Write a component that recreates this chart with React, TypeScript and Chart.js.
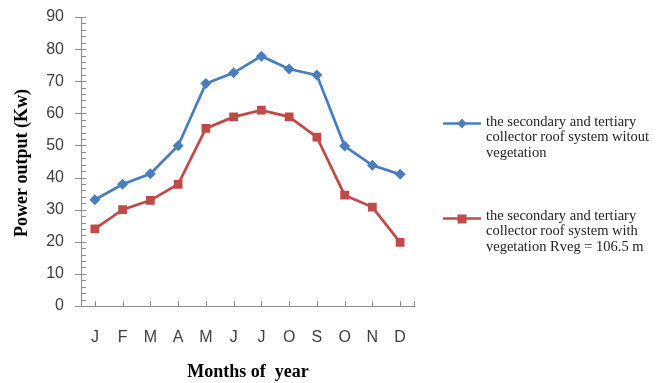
import React, { useEffect, useRef } from "react";
import { Chart, registerables } from "chart.js";

Chart.register(...registerables);

const months = ["J", "F", "M", "A", "M", "J", "J", "O", "S", "O", "N", "D"];
const withoutVegetation = [33.1, 37.9, 41.2, 49.9, 69.3, 72.6, 77.8, 73.8, 71.9, 49.8, 43.8, 41.0];
const withVegetation = [24.0, 30.0, 32.9, 37.9, 55.3, 58.9, 61.0, 58.9, 52.6, 34.5, 30.8, 19.8];
const yTicks = [0, 10, 20, 30, 40, 50, 60, 70, 80, 90];
const legendLabels = [
  ["the secondary and tertiary", "collector roof system witout", "vegetation"],
  ["the secondary and tertiary", "collector roof system with", "vegetation Rveg = 106.5 m"],
];

const BLUE = "#4a7ebb";
const RED = "#be4b48";
const AXIS = "#8c8c8c";

const decorations = {
  id: "decorations",
  afterDraw(chart: any) {
    const { ctx, chartArea, scales } = chart;
    const x = scales.x;
    const y = scales.y;
    ctx.save();
    ctx.strokeStyle = AXIS;
    ctx.lineWidth = 1;
    // y-axis major and minor tick marks
    for (let v = 0; v <= 90; v += 2) {
      const py = Math.round(y.getPixelForValue(v)) + 0.5;
      const major = v % 10 === 0;
      ctx.beginPath();
      ctx.moveTo(chartArea.left - (major ? 6 : 0), py);
      ctx.lineTo(chartArea.left + 5, py);
      ctx.stroke();
    }
    // x-axis tick marks at category centres
    const by = Math.round(chartArea.bottom);
    for (let i = 0; i < months.length; i++) {
      const px = Math.round(x.getPixelForValue(i)) + 0.5;
      ctx.beginPath();
      ctx.moveTo(px, by - 5);
      ctx.lineTo(px, by);
      ctx.stroke();
    }
    const rx = Math.round(chartArea.right) + 0.5;
    ctx.beginPath();
    ctx.moveTo(rx, by - 5);
    ctx.lineTo(rx, by);
    ctx.stroke();

    // axis titles
    ctx.fillStyle = "#000";
    ctx.font = "bold 18px 'Liberation Serif', 'Times New Roman', serif";
    ctx.textAlign = "center";
    ctx.textBaseline = "middle";
    ctx.fillText("Months of  year", 248, 372);
    ctx.save();
    ctx.translate(22, 163);
    ctx.rotate(-Math.PI / 2);
    ctx.fillText("Power output (Kw)", 0, 0);
    ctx.restore();

    // legend
    const entries = [
      { color: BLUE, style: "diamond", y: 123, ty: 122, lines: legendLabels[0] },
      { color: RED, style: "square", y: 218, ty: 216, lines: legendLabels[1] },
    ];
    ctx.font = "14.5px 'Liberation Serif', 'Times New Roman', serif";
    ctx.textAlign = "left";
    for (const e of entries) {
      ctx.strokeStyle = e.color;
      ctx.lineWidth = 2.5;
      ctx.beginPath();
      ctx.moveTo(443, e.y + 0.5);
      ctx.lineTo(481, e.y + 0.5);
      ctx.stroke();
      ctx.fillStyle = e.color;
      if (e.style === "diamond") {
        ctx.beginPath();
        ctx.moveTo(462, e.y - 4.5);
        ctx.lineTo(466.5, e.y + 0.5);
        ctx.lineTo(462, e.y + 5.5);
        ctx.lineTo(457.5, e.y + 0.5);
        ctx.closePath();
        ctx.fill();
      } else {
        ctx.fillRect(457.5, e.y - 3.5, 9, 9);
      }
      ctx.fillStyle = "#222";
      e.lines.forEach((t, k) => ctx.fillText(t, 486, e.ty + k * 15.5));
    }
    ctx.restore();
  },
};

export default function App() {
  const ref = useRef<HTMLCanvasElement>(null);
  useEffect(() => {
    document.body.style.margin = "0";
    const chart = new Chart(ref.current!, {
      type: "line",
      data: {
        labels: months,
        datasets: [
          {
            label: legendLabels[0].join(" "),
            data: withoutVegetation,
            borderColor: BLUE,
            backgroundColor: BLUE,
            borderWidth: 2.75,
            pointStyle: "rectRot",
            pointRadius: 5.5,
            pointBorderWidth: 0,
            tension: 0,
          },
          {
            label: legendLabels[1].join(" "),
            data: withVegetation,
            borderColor: RED,
            backgroundColor: RED,
            borderWidth: 2.75,
            pointStyle: "rect",
            pointRadius: 6.2,
            pointBorderWidth: 0,
            tension: 0,
          },
        ],
      },
      options: {
        responsive: false,
        animation: false,
        layout: { padding: { left: 0, top: 17, right: 251, bottom: 0 } },
        plugins: { legend: { display: false }, tooltip: { enabled: false } },
        scales: {
          x: {
            offset: true,
            grid: { display: false, drawTicks: false },
            border: { display: true, color: AXIS, width: 1 },
            ticks: {
              color: "#404040",
              padding: 22,
              font: { family: "'Liberation Sans', Arial, sans-serif", size: 16 },
            },
            afterFit: (s: any) => {
              s.height = 77;
            },
          },
          y: {
            min: 0,
            max: 90,
            afterBuildTicks: (s: any) => {
              s.ticks = yTicks.map((v) => ({ value: v }));
            },
            grid: { display: false, drawTicks: false },
            border: { display: true, color: AXIS, width: 1 },
            ticks: {
              color: "#404040",
              padding: 17,
              font: { family: "'Liberation Sans', Arial, sans-serif", size: 16 },
            },
            afterFit: (s: any) => {
              s.width = 81;
              s.paddingTop = 10;
              s.paddingBottom = 10;
            },
          },
        },
      },
      plugins: [decorations],
    });
    return () => chart.destroy();
  }, []);
  return (
    <div style={{ width: 665, height: 383, background: "#fff" }}>
      <canvas ref={ref} width={665} height={383} />
    </div>
  );
}
